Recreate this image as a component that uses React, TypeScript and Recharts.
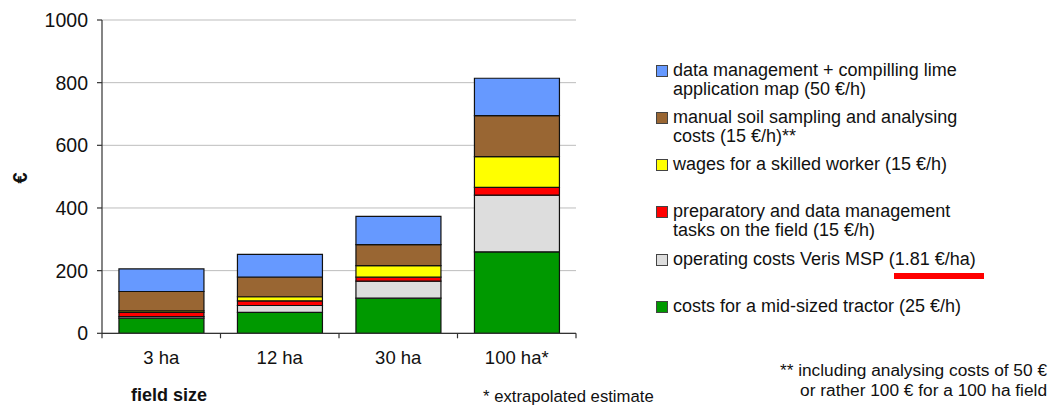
import React from 'react';
import { BarChart, Bar, XAxis, YAxis, CartesianGrid } from 'recharts';

const FONT = '"Liberation Sans", Arial, sans-serif';

const CATEGORIES = ['3 ha', '12 ha', '30 ha', '100 ha*'];
const TRACTOR = [48, 67, 112, 260];
const VERIS = [5.4, 21.7, 54.3, 181];
const PREP = [13, 15, 13, 25];
const WAGES = [5, 13, 37, 98];
const SAMPLING = [62, 63, 67, 131];
const DATA_MGMT = [72, 72, 90, 119];
const Y_TICKS = [0, 200, 400, 600, 800, 1000];

const SERIES = [
  { key: 'tractor', name: 'costs for a mid-sized tractor (25 €/h)', color: '#009900', values: TRACTOR },
  { key: 'veris', name: 'operating costs Veris MSP (1.81 €/ha)', color: '#DDDDDD', values: VERIS },
  { key: 'prep', name: 'preparatory and data management\ntasks on the field (15 €/h)', color: '#FF0000', values: PREP },
  { key: 'wages', name: 'wages for a skilled worker (15 €/h)', color: '#FFFF00', values: WAGES },
  { key: 'sampling', name: 'manual soil sampling and analysing\ncosts (15 €/h)**', color: '#996633', values: SAMPLING },
  { key: 'data', name: 'data management + compilling lime\napplication map (50 €/h)', color: '#6699FF', values: DATA_MGMT },
];

const data = CATEGORIES.map((c, i) => {
  const row: Record<string, any> = { category: c };
  SERIES.forEach((s) => {
    row[s.key] = s.values[i];
  });
  return row;
});

const XTick = (props: any) => {
  const { x, y, payload, index, visibleTicksCount } = props;
  const half = payload && typeof payload.offset === 'number' && payload.offset > 0 ? payload.offset : 59.25;
  return (
    <g>
      <line x1={x - half} x2={x - half} y1={y} y2={y + 5} stroke="#333" strokeWidth={1.2} />
      {index === visibleTicksCount - 1 && (
        <line x1={x + half} x2={x + half} y1={y} y2={y + 5} stroke="#333" strokeWidth={1.2} />
      )}
      <text x={x} y={y + 24} dy="0.355em" textAnchor="middle" fontFamily={FONT} fontSize={18.5} fill="#111">
        {payload.value}
      </text>
    </g>
  );
};

const textStyle: React.CSSProperties = {
  position: 'absolute',
  fontFamily: FONT,
  color: '#111',
  whiteSpace: 'pre',
};

export default function App() {
  const legendItems = [...SERIES].reverse();
  return (
    <div style={{ position: 'absolute', left: 0, top: 0, width: 1049, height: 405, background: '#fff', overflow: 'hidden' }}>
      <BarChart
        width={1049}
        height={405}
        data={data}
        margin={{ top: 20, right: 473, bottom: 41.7, left: 0 }}
        barCategoryGap="14.3%"
      >
        <CartesianGrid vertical={false} stroke="#BDBDBD" strokeWidth={1} />
        <XAxis
          dataKey="category"
          height={30}
          tickSize={0}
          tickMargin={0}
          tick={<XTick />}
          axisLine={{ stroke: '#333', strokeWidth: 1.2 }}
          tickLine={false}
          interval={0}
        />
        <YAxis
          width={102}
          domain={[0, 1000]}
          ticks={Y_TICKS}
          interval={0}
          tickSize={5}
          tickMargin={9}
          axisLine={{ stroke: '#333', strokeWidth: 1.2 }}
          tickLine={{ stroke: '#333', strokeWidth: 1.2 }}
          tick={{ fontFamily: FONT, fontSize: 19.5, fill: '#111' }}
        />
        {SERIES.map((s) => (
          <Bar
            key={s.key}
            dataKey={s.key}
            name={s.name}
            stackId="a"
            fill={s.color}
            stroke="#111"
            strokeWidth={1.2}
            isAnimationActive={false}
          />
        ))}
      </BarChart>

      {legendItems.map((s, i) => (
        <div key={s.key} style={{ position: 'absolute', left: 656, top: 60.5 + i * 47.3, height: 40 }}>
          <div
            style={{
              position: 'absolute',
              left: 0,
              top: 4,
              width: 10,
              height: 10,
              background: s.color,
              border: '1px solid #444',
            }}
          />
          <div style={{ ...textStyle, left: 17, top: 0, fontSize: 18, lineHeight: '19px' }}>{s.name}</div>
        </div>
      ))}

      <div style={{ position: 'absolute', left: 894, top: 273, width: 90, height: 6, background: '#F00' }} />

      <div
        style={{
          ...textStyle,
          left: 20,
          top: 178,
          fontSize: 20,
          fontWeight: 'bold',
          lineHeight: '22px',
          transform: 'translate(-50%, -50%) rotate(-90deg)',
        }}
      >
        €
      </div>

      <div style={{ ...textStyle, left: 131, top: 385, fontSize: 18, fontWeight: 'bold', lineHeight: '20px' }}>field size</div>
      <div style={{ ...textStyle, left: 483, top: 387, fontSize: 16.7, lineHeight: '20px' }}>* extrapolated estimate</div>
      <div
        style={{
          ...textStyle,
          right: 2,
          top: 360,
          fontSize: 17.3,
          lineHeight: '20px',
          textAlign: 'right',
        }}
      >
        {'** including analysing costs of 50 €\nor rather 100 € for a 100 ha field'}
      </div>
    </div>
  );
}
